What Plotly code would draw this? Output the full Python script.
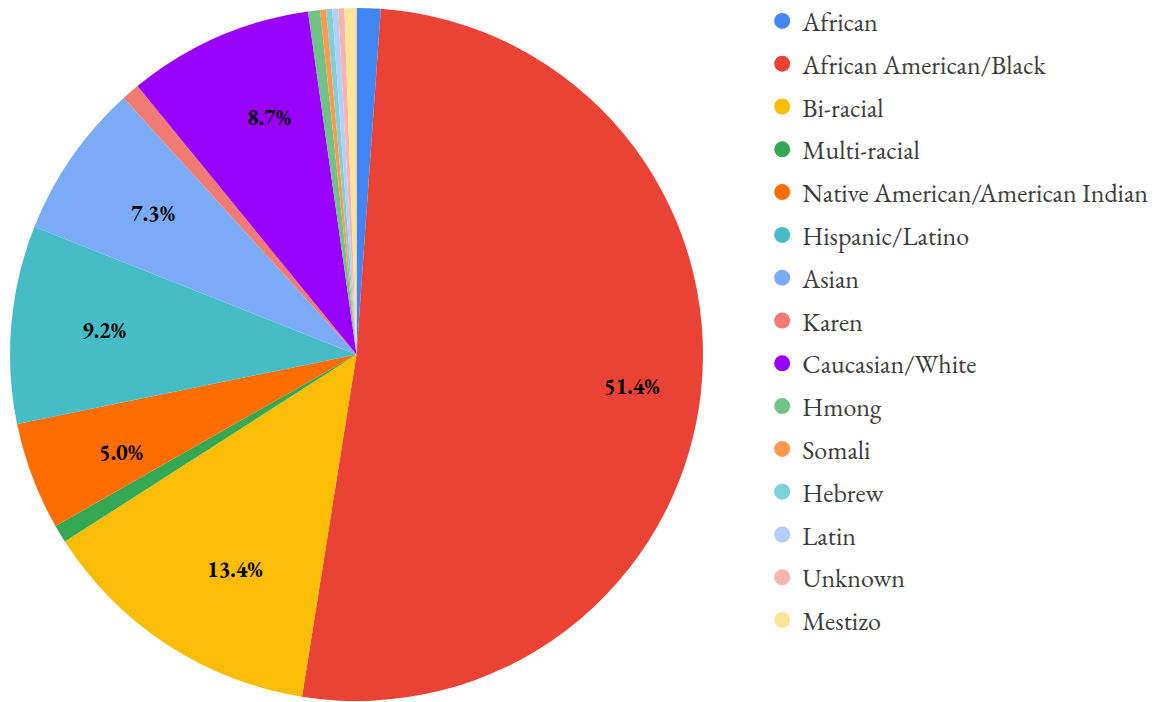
import math
import plotly.graph_objects as go

categories = ["African", "African American/Black", "Bi-racial", "Multi-racial",
              "Native American/American Indian", "Hispanic/Latino", "Asian", "Karen",
              "Caucasian/White", "Hmong", "Somali", "Hebrew", "Latin", "Unknown", "Mestizo"]
counts = [4, 184, 48, 3, 18, 33, 26, 3, 31, 2, 1, 1, 1, 1, 2]
colors = ["#4285F4", "#EA4335", "#FBBC04", "#34A853", "#FF6D01", "#46BDC6", "#7BAAF7",
          "#F07B72", "#9900FF", "#71C287", "#FF994D", "#7ED1D7", "#B3CEFB", "#F7B4AE", "#FDE49B"]

W, H = 1169, 702
FONT = "EB Garamond, Garamond, Liberation Serif, serif"

dom_x = [10 / W, 703 / W]
dom_y = [1 / H, 694 / H]

fig = go.Figure()
fig.add_trace(go.Pie(
    labels=categories, values=counts, sort=False, direction="clockwise", rotation=0,
    marker=dict(colors=colors, line=dict(width=0)),
    textinfo="none",
    domain=dict(x=dom_x, y=dom_y),
    showlegend=False, hoverinfo="label+value+percent",
))

# percent labels at 80% of the radius along each slice's mid-angle (as in the original)
total = sum(counts)
cx = (dom_x[0] + dom_x[1]) / 2
cy = (dom_y[0] + dom_y[1]) / 2
R = min((dom_x[1] - dom_x[0]) * W, (dom_y[1] - dom_y[0]) * H) / 2
cum = 0
for c in counts:
    frac = c / total
    mid = (cum + frac / 2) * 2 * math.pi
    cum += frac
    if frac < 0.03:
        continue
    fig.add_annotation(
        x=cx + 0.8 * R * math.sin(mid) / W, y=cy + 0.8 * R * math.cos(mid) / H,
        xref="paper", yref="paper", showarrow=False,
        text=f"<b>{frac * 100:.1f}%</b>",
        font=dict(family=FONT, size=22, color="#000000"),
    )

for i, (name, col) in enumerate(zip(categories, colors)):
    fig.add_trace(go.Scatter(
        x=[None], y=[None], mode="markers", name=name,
        marker=dict(color=col, size=16, symbol="circle"),
        legendgroup=f"g{i}", showlegend=True,
    ))

fig.update_layout(
    width=W, height=H,
    margin=dict(l=0, r=0, t=0, b=0, autoexpand=False),
    paper_bgcolor="white", plot_bgcolor="white",
    xaxis=dict(visible=False), yaxis=dict(visible=False),
    legend=dict(
        x=0.652, y=1 - 320.5 / H, xanchor="left", yanchor="middle",
        font=dict(family=FONT, size=26, color="#3c3c3c"),
        traceorder="grouped", tracegroupgap=6,
        itemclick=False, itemdoubleclick=False,
    ),
)

fig.write_html("out.html")
